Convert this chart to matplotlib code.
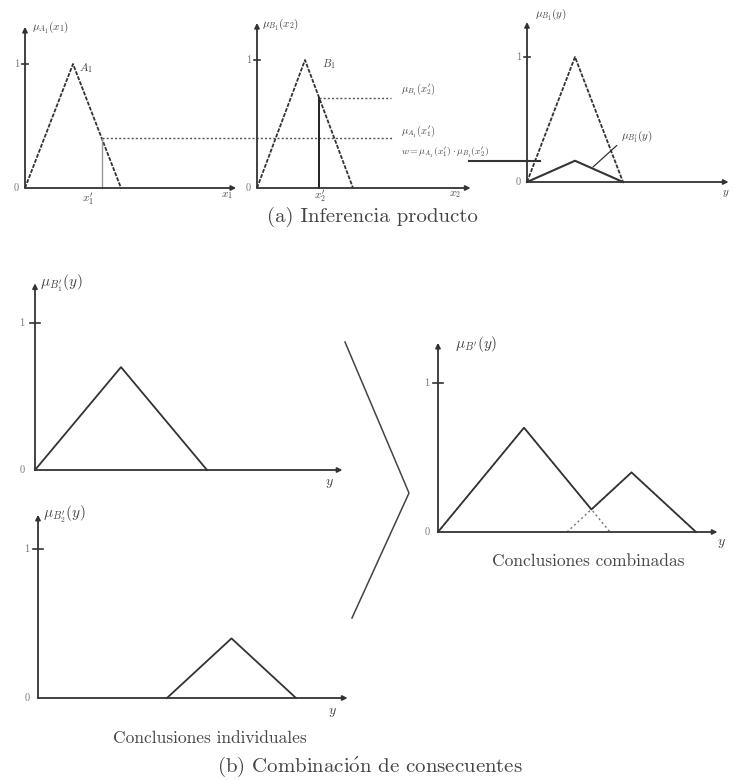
import numpy as np
import matplotlib
matplotlib.use('Agg')
from matplotlib import pyplot as plt

plt.rcParams['font.family'] = ['cmr10', 'DejaVu Serif']
plt.rcParams['mathtext.fontset'] = 'cm'
plt.rcParams['axes.unicode_minus'] = False

W, H = 735, 780
ink = '#333333'
txt = '#444444'

# (a) product inference: antecedents A1, B1 and consequent
a1_x = [0, 2, 4]
a1_mu = [0, 1, 0]
b1_x = [0, 2, 4]
b1_mu = [0, 1, 0]
x1_in = 3.2
x2_in = 2.6
cons_x = [0, 2, 4]
cons_mu = [0, 1, 0]
w_level = 0.17

# (b) individual conclusions and their combination
b1p_x = [0, 2, 4]
b1p_mu = [0, 0.7, 0]
b2p_x = [3, 4.5, 6]
b2p_mu = [0, 0.4, 0]

mu_a1_in = np.interp(x1_in, a1_x, a1_mu)
mu_b1_in = np.interp(x2_in, b1_x, b1_mu)

fig = plt.figure(figsize=(7.35, 7.8), dpi=100)


def panel(ox, oy, ux, uy, xend, ytop, xmin=-1.2, ymin=-0.25):
    # axes placed so that data (0,0) sits at pixel (ox, oy)
    xmax = xend + 0.6
    ymax = ytop + 0.2
    ax = fig.add_axes([(ox + xmin*ux)/W, (H - oy + ymin*uy)/H,
                       (xmax - xmin)*ux/W, (ymax - ymin)*uy/H])
    ax.set_xlim(xmin, xmax)
    ax.set_ylim(ymin, ymax)
    ax.axis('off')
    ap = dict(arrowstyle='-|>', color=ink, lw=1.3, mutation_scale=7,
              shrinkA=0, shrinkB=0)
    ax.annotate('', xy=(xend, 0), xytext=(0, 0), arrowprops=ap)
    ax.annotate('', xy=(0, ytop), xytext=(0, 0), arrowprops=ap)
    ax.plot([-0.12, 0.12], [1, 1], color=ink, lw=1.2)
    return ax


def ticks(ax, dx, fs=7.5):
    ax.text(-dx, 1, '1', fontsize=fs, color='#777777', ha='right', va='center')
    ax.text(-dx, 0, '0', fontsize=fs, color='#777777', ha='right', va='center')


tri_ls = (0, (2.2, 0.8))

# panel 1: mu_A1(x1)
ax1 = panel(25, 188, 24, 124, 8.8, 1.3)
ticks(ax1, 0.25)
ax1.plot(a1_x, a1_mu, color=ink, lw=1.3, ls=tri_ls)
ax1.plot([x1_in, x1_in], [0, mu_a1_in], color='#999999', lw=1.0)
ax1.plot([x1_in, 15.3], [mu_a1_in, mu_a1_in], color='#555555', lw=1.0,
         ls=(0, (1.5, 1.5)), clip_on=False)
ax1.text(0.3, 1.3, r'$\mu_{A_1}(x_1)$', fontsize=8, color=txt, va='center')
ax1.text(2.25, 0.97, r'$A_1$', fontsize=8, color=txt, va='center')
ax1.text(x1_in - 0.6, -0.09, r"$x_1'$", fontsize=8, color=txt, ha='center', va='center')
ax1.text(8.4, -0.06, r'$x_1$', fontsize=8, color=txt, ha='center', va='center')

# panel 2: mu_B1(x2)
ax2 = panel(257, 188, 24, 128, 8.9, 1.29)
ticks(ax2, 0.25)
ax2.plot(b1_x, b1_mu, color=ink, lw=1.3, ls=tri_ls)
ax2.plot([x2_in, x2_in], [0, mu_b1_in], color='#222222', lw=1.4)
ax2.plot([x2_in, 5.6], [mu_b1_in, mu_b1_in], color='#555555', lw=1.0,
         ls=(0, (1.5, 1.5)))
ax2.text(0.2, 1.28, r'$\mu_{B_1}(x_2)$', fontsize=8, color=txt, va='center')
ax2.text(2.7, 0.97, r'$B_1$', fontsize=8, color=txt, va='center')
ax2.text(x2_in, -0.06, r"$x_2'$", fontsize=8, color=txt, ha='center', va='center')
ax2.text(8.25, -0.05, r'$x_2$', fontsize=8, color=txt, ha='center', va='center')
ax2.text(6.0, mu_b1_in + 0.07, r"$\mu_{B_1}(x_2')$", fontsize=7.5, color=txt, va='center')
ax2.text(6.0, mu_a1_in + 0.04, r"$\mu_{A_1}(x_1')$", fontsize=7.5, color=txt, va='center')
ax2.text(6.0, 0.27, r"$w=\mu_{A_1}(x_1')\cdot\mu_{B_1}(x_2')$", fontsize=7,
         color=txt, va='center')

# panel 3: scaled consequent
ax3 = panel(527, 182, 24, 125, 8.4, 1.28)
ticks(ax3, 0.25)
ax3.plot(cons_x, cons_mu, color=ink, lw=1.3, ls=tri_ls)
ax3.plot(cons_x, w_level*np.array(cons_mu), color=ink, lw=1.5)
ax3.plot([-2.4, 0.55], [w_level, w_level], color=ink, lw=1.5, clip_on=False)
ax3.text(0.35, 1.34, r'$\mu_{B_1}(y)$', fontsize=8, color=txt, va='center')
ax3.text(8.3, -0.09, r'$y$', fontsize=8, color=txt, ha='center', va='center')
ax3.annotate(r"$\mu_{B_1'}(y)$", xy=(2.75, 0.12), xytext=(3.9, 0.36),
             fontsize=8, color=txt, va='center',
             arrowprops=dict(arrowstyle='-', color=ink, lw=0.9,
                             shrinkA=1, shrinkB=0, relpos=(0, 0.2)))

fig.text(372/W, 1 - 217/H, '(a) Inferencia producto', fontsize=15,
         color=txt, ha='center', va='center')

# panel 4: first individual conclusion
ax4 = panel(35, 470, 43, 147, 7.15, 1.27, xmin=-0.7)
ticks(ax4, 0.25)
ax4.plot(b1p_x, b1p_mu, color=ink, lw=1.3)
ax4.text(0.12, 1.27, r"$\mu_{B_1'}(y)$", fontsize=11, color=txt, va='center')
ax4.text(6.85, -0.09, r'$y$', fontsize=10, color=txt, ha='center', va='center')

# panel 5: second individual conclusion
ax5 = panel(38, 698, 43, 149, 7.2, 1.23, xmin=-0.7)
ticks(ax5, 0.2)
ax5.plot(b2p_x, b2p_mu, color=ink, lw=1.3)
ax5.text(0.12, 1.23, r"$\mu_{B_2'}(y)$", fontsize=11, color=txt, va='center')
ax5.text(6.85, -0.1, r'$y$', fontsize=10, color=txt, ha='center', va='center')
ax5.text(4.0, -0.27, 'Conclusiones individuales', fontsize=12.5, color=txt,
         ha='center', va='center')

# panel 6: max-combination of both conclusions
ax6 = panel(438, 532, 43, 149, 6.5, 1.27, xmin=-0.7)
ticks(ax6, 0.2)
ygrid = np.linspace(0, 6, 601)
comb = np.maximum(np.interp(ygrid, b1p_x, b1p_mu, left=0, right=0),
                  np.interp(ygrid, b2p_x, b2p_mu, left=0, right=0))
ax6.plot(b1p_x, b1p_mu, color='#777777', lw=1.0, ls=(0, (1.5, 2)))
ax6.plot(b2p_x, b2p_mu, color='#777777', lw=1.0, ls=(0, (1.5, 2)))
ax6.plot(ygrid, comb, color=ink, lw=1.3)
ax6.text(0.4, 1.26, r"$\mu_{B'}(y)$", fontsize=11, color=txt, va='center')
ax6.text(6.6, -0.08, r'$y$', fontsize=10, color=txt, ha='center', va='center')
ax6.text(3.5, -0.2, 'Conclusiones combinadas', fontsize=12.5, color=txt,
         ha='center', va='center')

# bracket joining the individual conclusions to the combined one
brace_x = [345, 409, 352]
brace_y = [342, 493, 618]
over = fig.add_axes([0, 0, 1, 1], zorder=-1)
over.set_xlim(0, W)
over.set_ylim(H, 0)
over.axis('off')
over.plot(brace_x, brace_y, color='#444444', lw=1.1)

fig.text(370/W, 1 - 767/H, r'(b) Combinaci$\mathrm{\acute{o}}$n de consecuentes',
         fontsize=15, color=txt, ha='center', va='center')

fig.savefig('out.png', dpi=100, facecolor='white')
